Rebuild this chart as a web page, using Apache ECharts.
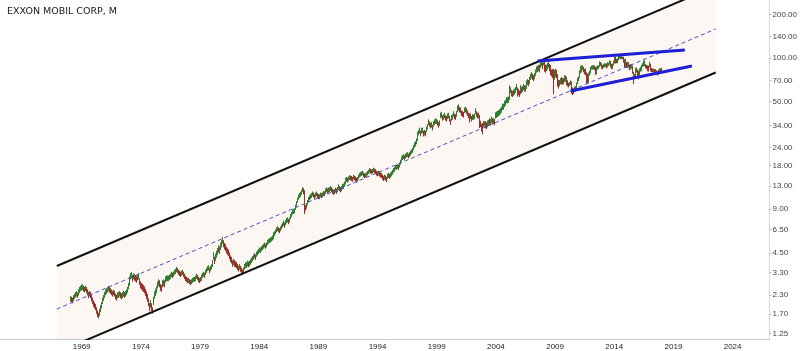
<!DOCTYPE html>
<html><head><meta charset="utf-8">
<script src="https://cdn.jsdelivr.net/npm/echarts@6/dist/echarts.min.js"></script>
<style>html,body{margin:0;padding:0;background:#fff}#c{width:800px;height:351px}</style>
</head><body><div id="c"></div><script>
const chartTitle = 'EXXON MOBIL CORP, M';
const startYear = 1968;
// monthly lows, one row per year (1968 .. 2017)
const lows = [
2.08,2.07,2.03,2.10,2.17,2.22,2.26,2.22,2.30,2.40,2.46,2.50,
2.50,2.45,2.42,2.46,2.40,2.30,2.20,2.26,2.21,2.10,2.01,1.92,
1.87,1.82,1.72,1.63,1.60,1.66,1.77,1.87,2.01,2.11,2.21,2.31,
2.36,2.41,2.46,2.41,2.36,2.31,2.26,2.31,2.26,2.16,2.12,2.21,
2.21,2.26,2.21,2.16,2.21,2.26,2.21,2.26,2.31,2.40,2.54,2.69,
2.82,2.97,3.02,2.87,2.97,2.92,2.87,2.82,2.92,2.97,2.72,2.57,
2.53,2.48,2.43,2.38,2.28,2.18,2.08,1.94,1.79,1.89,1.80,1.72,
1.98,2.18,2.28,2.38,2.57,2.67,2.62,2.48,2.43,2.62,2.67,2.62,
2.83,2.88,2.89,2.89,2.94,2.99,3.09,3.04,3.09,3.19,3.24,3.33,
3.29,3.19,3.14,3.09,3.14,3.19,3.09,2.99,2.90,2.85,2.80,2.80,
2.76,2.71,2.76,2.81,2.86,2.86,2.90,3.00,2.95,2.85,2.80,2.86,
2.90,2.95,3.05,3.10,3.05,3.19,3.29,3.39,3.43,3.28,3.38,3.48,
3.62,4.08,3.80,3.99,4.18,4.37,4.56,4.47,4.75,4.94,5.24,4.95,
4.78,4.68,4.49,4.40,4.30,4.11,3.92,3.82,3.63,3.73,3.63,3.59,
3.55,3.45,3.36,3.46,3.36,3.27,3.18,3.27,3.46,3.56,3.56,3.65,
3.61,3.66,3.76,3.86,3.96,4.06,4.15,4.05,4.25,4.35,4.45,4.54,
4.54,4.64,4.74,4.84,4.94,4.84,4.94,5.13,5.23,5.33,5.33,5.43,
5.52,5.62,5.81,5.91,6.11,6.30,6.40,6.30,6.20,6.40,6.59,6.79,
6.95,6.76,7.05,7.25,7.35,7.15,7.35,7.74,8.03,8.32,8.42,8.51,
8.98,9.46,10.05,10.54,10.83,11.03,11.42,11.90,11.50,8.40,8.85,9.15,
9.65,10.15,10.45,10.65,10.85,11.15,10.95,10.65,10.95,11.15,10.85,10.65,
10.65,10.95,10.85,10.95,11.25,11.15,11.60,11.90,11.60,11.80,11.90,12.10,
11.90,11.60,11.40,11.50,11.80,11.60,11.90,12.35,12.05,11.90,12.10,12.45,
12.55,12.95,13.45,13.85,14.05,13.85,14.15,14.45,14.35,14.25,14.05,14.55,
14.35,14.15,13.85,14.05,14.55,15.05,15.25,15.45,15.55,15.15,14.85,15.05,
15.15,15.55,15.85,16.20,16.00,15.80,16.00,16.30,16.10,15.90,15.50,15.30,
15.50,15.30,15.00,14.90,14.50,14.20,14.50,14.30,14.00,14.70,14.90,14.70,
15.00,15.30,15.70,16.20,16.50,17.00,17.05,17.25,16.95,17.65,18.40,19.40,
19.85,20.15,19.75,20.35,20.65,20.85,20.35,20.85,21.30,21.80,22.30,23.25,
24.10,24.60,25.50,26.90,28.40,29.40,30.30,28.90,30.30,30.30,28.90,29.40,
28.90,30.80,32.30,34.70,33.70,32.80,33.20,31.80,33.70,34.70,35.20,35.20,
34.20,33.20,34.20,38.50,39.00,37.10,37.60,38.50,37.10,36.60,38.00,38.50,
36.60,34.70,37.10,37.60,39.50,38.00,37.60,39.50,42.40,43.40,42.40,41.90,
40.00,39.50,39.00,41.90,42.40,41.40,40.00,38.50,36.00,38.00,36.60,37.60,
37.60,38.00,41.40,39.50,38.50,38.50,33.00,33.50,31.20,29.80,33.70,33.70,
32.80,32.50,33.40,34.00,35.00,34.50,34.50,35.90,35.00,35.00,34.50,38.30,
38.80,39.30,39.80,40.30,41.20,42.20,44.10,44.10,46.00,47.00,48.90,48.90,
49.30,51.50,57.50,54.60,54.10,55.10,56.10,57.50,60.40,54.50,55.60,54.10,
56.50,57.50,58.50,60.40,58.90,58.90,61.50,65.20,64.20,66.50,70.90,72.80,
70.90,69.50,71.90,75.70,79.50,80.50,81.50,80.00,86.00,88.20,84.00,89.60,
80.90,79.60,81.50,83.50,86.30,81.50,76.70,75.00,73.00,56.50,71.00,74.00,
72.80,64.00,61.90,64.20,66.10,67.10,66.00,66.10,66.10,68.50,69.00,65.20,
64.00,63.00,64.50,65.50,57.00,55.90,56.60,58.40,59.00,61.50,66.50,69.50,
73.00,78.80,80.00,83.00,80.00,77.50,76.50,67.00,67.50,68.00,76.00,78.50,
83.50,83.50,84.00,83.00,77.00,77.50,83.50,84.50,87.00,88.50,84.80,84.00,
86.50,86.20,87.40,85.20,86.70,88.60,90.20,86.50,84.70,84.00,89.00,92.30,
92.00,92.50,92.50,96.50,99.40,99.00,98.50,98.80,93.50,86.20,87.10,86.00,
85.50,86.50,82.70,84.00,84.90,82.30,78.50,66.50,72.00,73.70,79.80,73.80,
71.55,76.00,81.00,81.50,87.30,87.70,88.60,85.40,84.50,81.40,81.00,86.50,
81.30,80.30,80.30,80.40,80.00,79.40,78.20,76.10,77.00,80.50,80.00,81.40
];
// monthly highs, one row per year (1968 .. 2017)
const highs = [
2.24,2.22,2.19,2.28,2.33,2.39,2.43,2.38,2.50,2.60,2.64,2.70,
2.70,2.64,2.60,2.65,2.59,2.50,2.40,2.44,2.40,2.30,2.19,2.09,
2.03,1.98,1.88,1.78,1.72,1.83,1.94,2.04,2.19,2.29,2.39,2.49,
2.54,2.59,2.64,2.59,2.54,2.49,2.44,2.49,2.44,2.34,2.29,2.39,
2.39,2.44,2.39,2.34,2.39,2.44,2.39,2.44,2.49,2.60,2.76,2.92,
3.08,3.23,3.28,3.13,3.23,3.18,3.13,3.08,3.18,3.23,2.98,2.83,
2.77,2.72,2.67,2.62,2.52,2.42,2.32,2.16,2.01,2.11,2.00,1.88,
2.22,2.42,2.52,2.62,2.83,2.93,2.88,2.72,2.67,2.88,2.93,2.88,
3.07,3.12,3.11,3.11,3.16,3.21,3.31,3.26,3.31,3.41,3.46,3.57,
3.51,3.41,3.36,3.31,3.36,3.41,3.31,3.21,3.10,3.05,3.00,3.00,
2.94,2.89,2.94,2.99,3.04,3.04,3.10,3.20,3.15,3.05,3.00,3.04,
3.10,3.15,3.25,3.30,3.25,3.41,3.51,3.61,3.67,3.52,3.62,3.72,
3.98,4.52,4.20,4.41,4.62,4.83,5.04,4.93,5.25,5.46,5.76,5.45,
5.22,5.12,4.91,4.80,4.70,4.49,4.28,4.18,3.97,4.07,3.97,3.91,
3.85,3.75,3.64,3.74,3.64,3.53,3.42,3.53,3.74,3.84,3.84,3.95,
3.89,3.94,4.04,4.14,4.24,4.34,4.45,4.35,4.55,4.65,4.75,4.86,
4.86,4.96,5.06,5.16,5.26,5.16,5.26,5.47,5.57,5.67,5.67,5.77,
5.88,5.98,6.19,6.29,6.49,6.70,6.80,6.70,6.60,6.80,7.01,7.21,
7.45,7.24,7.55,7.75,7.85,7.65,7.85,8.26,8.57,8.88,8.98,9.09,
9.62,10.14,10.75,11.26,11.57,11.77,12.18,12.70,12.50,12.10,9.55,9.85,
10.35,10.85,11.15,11.35,11.55,11.85,11.65,11.35,11.65,11.85,11.55,11.35,
11.35,11.65,11.55,11.65,11.95,11.85,12.40,12.70,12.40,12.60,12.70,12.90,
12.70,12.40,12.20,12.30,12.60,12.40,12.70,13.25,12.95,12.70,12.90,13.35,
13.45,13.85,14.35,14.75,14.95,14.75,15.05,15.35,15.25,15.15,14.95,15.45,
15.25,15.05,14.75,14.95,15.45,15.95,16.15,16.35,16.45,16.05,15.75,15.95,
16.05,16.45,16.75,17.20,17.00,16.80,17.00,17.30,17.10,16.90,16.50,16.30,
16.50,16.30,16.00,15.90,15.50,15.20,15.50,15.30,15.00,15.70,15.90,15.70,
16.00,16.30,16.70,17.20,17.50,18.00,18.15,18.35,18.05,18.75,19.60,20.60,
21.15,21.45,21.05,21.65,21.95,22.15,21.65,22.15,22.70,23.20,23.70,24.75,
25.90,26.40,27.50,29.10,30.60,31.60,32.70,31.10,32.70,32.70,31.10,31.60,
31.10,33.20,34.70,37.30,36.30,35.20,35.80,34.20,36.30,37.30,37.80,37.80,
36.80,35.80,36.80,41.50,42.00,39.90,40.40,41.50,39.90,39.40,41.00,41.50,
39.40,37.30,39.90,40.40,42.50,41.00,40.40,42.50,46.50,47.50,45.60,45.10,
43.00,42.50,42.00,45.10,45.60,44.60,43.00,41.50,41.00,41.00,39.40,40.40,
40.40,41.00,44.60,42.50,41.50,41.50,40.00,36.50,34.80,35.20,36.30,36.30,
36.20,35.50,36.60,37.00,38.00,37.50,37.50,39.10,38.00,38.00,37.50,41.70,
42.20,42.70,43.20,43.70,44.80,45.80,47.90,47.90,50.00,51.00,53.10,53.10,
53.70,64.00,62.50,59.40,58.90,59.90,60.90,62.50,65.60,62.00,60.40,58.90,
64.50,62.50,63.50,65.60,64.10,64.10,69.50,70.80,69.80,73.50,77.10,79.20,
77.10,75.50,78.10,82.30,86.50,87.50,88.50,89.00,94.50,95.00,92.00,95.50,
94.00,89.00,89.00,92.00,96.00,90.00,88.50,82.50,83.00,83.00,82.00,83.50,
82.00,76.50,70.00,69.80,71.90,72.90,72.50,71.90,71.90,75.50,75.00,73.50,
69.40,66.80,67.50,69.40,68.20,62.00,61.20,62.90,63.40,67.00,72.50,73.80,
81.50,87.50,88.20,88.20,86.00,83.50,83.50,79.00,77.00,78.50,81.00,86.00,
87.70,88.20,88.20,87.90,86.00,86.50,88.00,88.00,93.70,93.00,91.30,88.40,
90.00,91.00,91.00,90.60,92.60,92.00,95.50,94.30,90.00,90.80,95.00,101.70,
101.70,97.50,98.60,102.40,102.80,103.50,104.80,100.80,101.20,97.20,98.00,92.80,
93.50,92.20,89.00,90.00,89.20,87.80,84.70,79.50,77.00,84.90,85.20,82.50,
80.80,84.00,85.90,88.90,91.30,95.00,95.50,89.70,88.60,88.00,87.90,93.20,
90.50,84.50,83.60,83.70,82.80,83.00,81.20,80.70,82.60,84.00,84.00,84.90
];
const yearTicks = [1969,1974,1979,1984,1989,1994,1999,2004,2009,2014,2019,2024];
const priceTicks = [1.25,1.7,2.3,3.3,4.5,6.5,9,13,18,24,34,50,70,100,140,200];
const channelMid = [[1966.90,1.84],[2022.57,158.3]];
const channelUpper = [[1966.90,3.65],[2022.57,313]];
const channelLower = [[1966.90,0.92],[2022.57,79.2]];
const wedgeUpper = [[2007.52,95.1],[2019.97,113.3]];
const wedgeLower = [[2010.30,59.0],[2020.56,87.9]];

const bars = lows.map((lo, i) => {
  const hi = highs[i];
  const mid = lo + hi;
  const prev = i > 0 ? lows[i-1] + highs[i-1] : mid;
  return [startYear + (i + 0.5) / 12, lo, hi, mid >= prev ? 1 : -1];
});

const chart = echarts.init(document.getElementById('c'), null, {renderer: 'canvas'});
const FONT = 'Liberation Sans';
chart.setOption({
  animation: false,
  backgroundColor: '#ffffff',
  title: {text: chartTitle, left: 2, top: 2, textStyle: {fontFamily: 'DejaVu Sans', fontSize: 9.5, fontWeight: 'normal', color: '#1a1a1a'}},
  grid: {left: 0, right: 27, top: 0, bottom: 12},
  xAxis: {
    type: 'value', min: 1962.10, max: 2027.12,
    splitLine: {show: false},
    axisLine: {show: true, lineStyle: {color: '#c8c8c8'}},
    axisTick: {show: false},
    axisLabel: {customValues: yearTicks, formatter: v => String(v), fontFamily: FONT, fontSize: 8, color: '#222', margin: 4}
  },
  yAxis: {
    type: 'log', position: 'right', min: 1.1426, max: 251.1,
    splitLine: {show: false},
    axisLine: {show: true, onZero: false, lineStyle: {color: '#d8d8d8'}},
    axisTick: {show: true, customValues: priceTicks, length: 2, inside: false, lineStyle: {color: '#bbb'}},
    axisLabel: {customValues: priceTicks, formatter: v => Number(v).toFixed(2), fontFamily: FONT, fontSize: 8, color: '#444', margin: 3}
  },
  series: [
    {
      type: 'custom', clip: true, z: 1, silent: true,
      data: [[0]],
      renderItem: function (params, api) {
        const pts = [api.coord(channelUpper[0]), api.coord(channelUpper[1]), api.coord(channelLower[1]), api.coord(channelLower[0])];
        return {type: 'polygon', shape: {points: pts}, style: {fill: '#fcf7f3'}};
      }
    },
    {
      type: 'custom', clip: true, z: 2, silent: true,
      data: bars,
      encode: {x: 0, y: [1, 2]},
      renderItem: function (params, api) {
        const t = api.value(0);
        const p1 = api.coord([t, api.value(1)]);
        const p2 = api.coord([t, api.value(2)]);
        const x = Math.round(p1[0]) + 0.5;
        return {type: 'line', shape: {x1: x, y1: p1[1] + 0.5, x2: x, y2: p2[1] - 0.5},
          style: {stroke: api.value(3) > 0 ? '#2f7f33' : '#9c2f2a', lineWidth: 1}};
      }
    },
    {type: 'line', data: channelMid, symbol: 'none', z: 3, lineStyle: {color: '#4c4cc4', width: 1, type: [4, 3]}},
    {type: 'line', data: channelUpper, symbol: 'none', z: 4, lineStyle: {color: '#111', width: 2}},
    {type: 'line', data: channelLower, symbol: 'none', z: 4, lineStyle: {color: '#111', width: 2}},
    {type: 'line', data: wedgeUpper, symbol: 'none', z: 5, lineStyle: {color: '#1f1fd6', width: 3}},
    {type: 'line', data: wedgeLower, symbol: 'none', z: 5, lineStyle: {color: '#1f1fd6', width: 3}}
  ]
});
</script></body></html>
